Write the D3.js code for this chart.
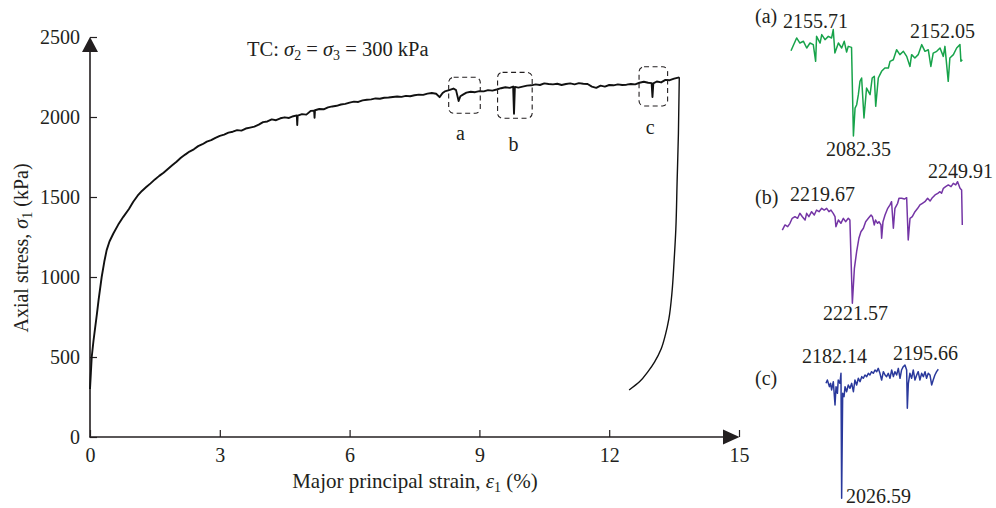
<!DOCTYPE html>
<html><head><meta charset="utf-8">
<script src="https://cdn.jsdelivr.net/npm/d3@7"></script>
<style>body{margin:0;background:#fff}svg{display:block}text{font-family:"Liberation Serif","DejaVu Serif",serif;fill:#231f20}</style>
</head><body><svg id="c" width="996" height="508"></svg>
<script>
// ---------- loading curve (strain %, axial stress kPa) ----------
const mainStrain = [0,0.02,0.04,0.08,0.12,0.16,0.2,0.27,0.33,0.385,0.45,0.54,0.65,0.77,0.9,1.0,1.1,1.2,1.3,1.4,1.5,1.6,1.7,1.8,1.9,2.0,2.1,2.2,2.3,2.4,2.5,2.6,2.7,2.8,2.9,3.0,3.1,3.2,3.3,3.4,3.5,3.6,3.7,3.8,3.9,4.0,4.1,4.2,4.3,4.4,4.5,4.6,4.7,4.78,4.79,4.8,4.9,5.0,5.1,5.18,5.19,5.2,5.3,5.4,5.5,5.6,5.7,5.8,5.9,6.0,6.1,6.2,6.3,6.4,6.5,6.6,6.7,6.8,6.9,7.0,7.1,7.2,7.3,7.4,7.5,7.6,7.7,7.8,7.9,8.0,8.08,8.15,8.2,8.3,8.4,8.46,8.52,8.56,8.62,8.7,8.8,8.9,9.0,9.1,9.2,9.3,9.4,9.5,9.6,9.7,9.78,9.8,9.82,9.9,10.0,10.1,10.2,10.3,10.4,10.5,10.6,10.7,10.8,10.9,11.0,11.1,11.2,11.3,11.4,11.5,11.6,11.7,11.8,11.9,12.0,12.1,12.2,12.3,12.4,12.5,12.6,12.7,12.8,12.9,12.98,13.0,13.02,13.1,13.2,13.3,13.4,13.5,13.62];
const mainStress = [300,400,500,600,685,770,860,1000,1095,1168,1222,1272,1326,1376,1425,1470,1508,1538,1562,1585,1610,1632,1652,1675,1698,1720,1745,1765,1784,1798,1818,1830,1846,1855,1870,1882,1890,1902,1908,1918,1915,1928,1934,1940,1952,1968,1972,1985,1980,1992,1998,1994,2005,2010,1950,2008,2018,2015,2038,2040,1995,2042,2050,2048,2060,2066,2070,2078,2082,2090,2096,2094,2104,2108,2110,2116,2114,2120,2122,2125,2128,2126,2132,2130,2136,2140,2138,2146,2150,2145,2124,2150,2160,2168,2178,2168,2100,2130,2140,2152,2158,2155,2162,2160,2168,2165,2172,2180,2186,2182,2190,2020,2188,2184,2190,2196,2198,2204,2200,2210,2206,2204,2208,2200,2206,2210,2204,2212,2208,2206,2190,2182,2196,2190,2200,2198,2204,2200,2202,2206,2204,2214,2220,2214,2212,2125,2210,2222,2216,2232,2230,2240,2248];
// ---------- unloading curve ----------
const unloadStrain = [13.62,13.6,13.57,13.54,13.5,13.45,13.38,13.3,13.2,13.05,12.9,12.7,12.46];
const unloadStress = [2248,1900,1600,1300,1100,900,740,640,550,470,410,345,294];

// ---------- axis ticks ----------
const xTicks = [0,3,6,9,12,15];
const yTicks = [0,500,1000,1500,2000,2500];

// ---------- boxed regions ----------
const boxNames = ["a","b","c"];
const boxStrain = [[8.29,9.02],[9.42,10.22],[12.69,13.35]];
const boxStress = [[2023,2248],[1992,2279],[2069,2314]];
const boxLabelPos = [[8.56,1856],[9.79,1788],[12.95,1894]];

// ---------- inset (a) ----------
const aStrain = [8.290,8.314,8.328,8.343,8.357,8.371,8.385,8.395,8.399,8.414,8.421,8.435,8.449,8.463,8.470,8.477,8.492,8.506,8.517,8.527,8.534,8.548,8.556,8.563,8.570,8.577,8.584,8.591,8.601,8.612,8.627,8.636,8.645,8.651,8.662,8.676,8.690,8.705,8.712,8.726,8.740,8.754,8.769,8.783,8.797,8.804,8.818,8.832,8.847,8.861,8.875,8.886,8.896,8.911,8.925,8.939,8.946,8.960,8.967,8.982,8.996,9.010,9.014,9.020];
const aStress = [2141.1,2149.9,2146.4,2147.6,2143.0,2146.4,2145.3,2133.8,2151.0,2146.4,2152.2,2148.7,2151.0,2149.9,2155.7,2139.5,2146.4,2143.0,2147.6,2140.2,2144.1,2143.4,2082.35,2101.6,2103.9,2110.8,2120.0,2122.3,2094.8,2115.4,2110.8,2122.3,2123.5,2102.8,2122.3,2126.9,2129.2,2129.2,2133.8,2134.9,2141.8,2138.4,2140.7,2137.2,2130.3,2138.4,2136.1,2138.4,2145.3,2140.7,2141.8,2130.3,2139.5,2140.7,2143.0,2137.2,2144.1,2120.0,2136.1,2138.4,2143.0,2145.3,2133.8,2134.9];
// ---------- inset (b) ----------
const bStrain = [9.420,9.432,9.444,9.454,9.464,9.476,9.488,9.498,9.509,9.521,9.528,9.538,9.550,9.562,9.572,9.583,9.595,9.606,9.617,9.627,9.636,9.646,9.654,9.658,9.669,9.680,9.691,9.701,9.713,9.720,9.731,9.740,9.750,9.760,9.769,9.780,9.790,9.802,9.814,9.820,9.828,9.834,9.843,9.849,9.858,9.861,9.867,9.876,9.888,9.898,9.905,9.913,9.920,9.932,9.938,9.950,9.962,9.972,9.979,9.987,9.997,10.009,10.021,10.031,10.042,10.053,10.065,10.076,10.086,10.098,10.110,10.120,10.127,10.135,10.145,10.157,10.169,10.179,10.190,10.198,10.209,10.216,10.219];
const bStress = [2211.2,2215.3,2213.9,2216.6,2220.6,2221.9,2220.6,2224.6,2221.9,2219.2,2224.6,2221.9,2225.9,2223.2,2227.2,2225.9,2228.6,2227.2,2228.6,2225.9,2227.2,2224.6,2221.9,2213.9,2219.2,2216.6,2220.6,2217.9,2220.6,2219.2,2152.6,2180.6,2193.9,2204.6,2209.9,2212.6,2217.9,2220.6,2223.2,2221.9,2215.3,2219.2,2216.6,2217.9,2215.3,2204.6,2217.9,2223.2,2228.6,2231.3,2233.9,2212.6,2228.6,2232.6,2236.6,2236.6,2236.0,2237.1,2203.3,2220.6,2221.9,2225.9,2228.6,2231.3,2232.6,2233.9,2236.6,2234.4,2237.1,2239.3,2240.6,2241.9,2240.6,2244.6,2245.9,2247.3,2245.9,2248.6,2247.3,2249.9,2244.6,2243.3,2215.3];
// ---------- inset (c) ----------
const cStrain = [12.690,12.698,12.710,12.717,12.723,12.733,12.743,12.749,12.757,12.762,12.772,12.778,12.782,12.788,12.796,12.802,12.811,12.821,12.831,12.841,12.851,12.860,12.870,12.880,12.890,12.900,12.909,12.919,12.929,12.939,12.948,12.958,12.968,12.978,12.988,12.997,13.007,13.017,13.027,13.037,13.046,13.056,13.066,13.076,13.086,13.095,13.105,13.115,13.125,13.134,13.144,13.154,13.164,13.168,13.174,13.183,13.193,13.203,13.213,13.223,13.232,13.242,13.252,13.262,13.272,13.281,13.291,13.301,13.311,13.320,13.330,13.340,13.350];
const cStress = [2172.4,2176.6,2168.2,2172.4,2164.0,2174.5,2144.9,2168.2,2159.7,2176.6,2172.4,2185.1,2026.6,2159.7,2155.5,2168.2,2161.8,2170.3,2166.1,2172.4,2161.8,2176.6,2170.3,2178.8,2174.5,2180.9,2178.8,2183.0,2180.9,2185.1,2183.0,2187.2,2185.1,2189.3,2187.2,2191.4,2185.1,2176.6,2187.2,2183.0,2180.9,2185.1,2178.8,2189.3,2180.9,2187.2,2183.0,2191.4,2178.8,2189.3,2193.5,2195.7,2189.3,2140.7,2172.4,2185.1,2178.8,2189.3,2176.6,2183.0,2187.2,2176.6,2185.1,2180.9,2187.2,2178.8,2185.1,2183.0,2170.3,2176.6,2183.0,2187.2,2190.2];

const insetLabels = ["(a)","(b)","(c)"];
const insetNotes = [["2155.71","2152.05","2082.35"],["2219.67","2249.91","2221.57"],["2182.14","2195.66","2026.59"]];
const insetColors = ["#17a34a","#7435a5","#2a399c"];

// ---------- drawing ----------
const svg = d3.select("#c");
const ink = "#231f20";
const x = d3.scaleLinear().domain([0,15]).range([90,739]);
const y = d3.scaleLinear().domain([0,2500]).range([437,37]);

const gx = svg.append("g").attr("transform","translate(0,437)")
  .call(d3.axisBottom(x).tickValues(xTicks).tickSize(-7).tickPadding(11).tickFormat(d3.format("d")));
const gy = svg.append("g").attr("transform","translate(90,0)")
  .call(d3.axisLeft(y).tickValues(yTicks).tickSize(-7).tickPadding(10).tickFormat(d3.format("d")));
[gx,gy].forEach(g=>{
  g.select(".domain").remove();
  g.selectAll("line").attr("stroke",ink).attr("stroke-width",1.2);
  g.selectAll("text").attr("font-size",20).attr("font-family","Liberation Serif").attr("fill",ink);
});
svg.append("line").attr("x1",90).attr("x2",90).attr("y1",437.5).attr("y2",50).attr("stroke",ink).attr("stroke-width",1.6);
svg.append("line").attr("x1",89.5).attr("x2",725).attr("y1",437).attr("y2",437).attr("stroke",ink).attr("stroke-width",1.6);
svg.append("path").attr("d","M90,37 L82,52 L98,52 Z").attr("fill",ink);
svg.append("path").attr("d","M739.5,437 L723,429.5 L723,444.5 Z").attr("fill",ink);

svg.append("text").attr("x",415).attr("y",488).attr("text-anchor","middle").attr("font-size",21)
  .html('Major principal strain, <tspan font-style="italic">ε</tspan><tspan font-size="14" dy="4">1</tspan><tspan dy="-4"> (%)</tspan>');
svg.append("text").attr("transform","translate(28,248) rotate(-90)").attr("text-anchor","middle").attr("font-size",20)
  .html('Axial stress, <tspan font-style="italic">σ</tspan><tspan font-size="14" dy="4">1</tspan><tspan dy="-4"> (kPa)</tspan>');

svg.append("text").attr("x",247).attr("y",56).attr("font-size",20.5)
  .html('TC: <tspan font-style="italic">σ</tspan><tspan font-size="14" dy="4">2</tspan><tspan dy="-4"> = </tspan><tspan font-style="italic">σ</tspan><tspan font-size="14" dy="4">3</tspan><tspan dy="-4"> = 300 kPa</tspan>');

const line = d3.line().x(d=>x(d[0])).y(d=>y(d[1]));
svg.append("path").datum(mainStrain.map((s,i)=>[s,mainStress[i]])).attr("fill","none").attr("stroke","#111")
  .attr("stroke-width",1.9).attr("stroke-linejoin","round").attr("d",line);
svg.append("path").datum(unloadStrain.map((s,i)=>[s,unloadStress[i]])).attr("fill","none").attr("stroke","#111")
  .attr("stroke-width",1.4).attr("stroke-linejoin","round").attr("d",line.curve(d3.curveMonotoneY));

boxNames.forEach((n,i)=>{
  const x0=x(boxStrain[i][0]), x1=x(boxStrain[i][1]), y0=y(boxStress[i][1]), y1=y(boxStress[i][0]);
  svg.append("rect").attr("x",x0).attr("y",y0).attr("width",x1-x0).attr("height",y1-y0)
    .attr("rx",5).attr("fill","none").attr("stroke",ink).attr("stroke-width",1.1).attr("stroke-dasharray","5,3.5");
  svg.append("text").attr("x",x(boxLabelPos[i][0])).attr("y",y(boxLabelPos[i][1])).attr("text-anchor","middle")
    .attr("font-size",20).text(n);
});

const insets = [
  {s:aStrain, v:aStress, xd:[8.29,9.02], xr:[791,962.3], yd:[2082.35,2156.76], yr:[136,28],
   lab:[755,23], notes:[[783,28],[910,38],[826,156]]},
  {s:bStrain, v:bStress, xd:[9.42,10.219], xr:[782.3,962.3], yd:[2152.6,2255.25], yr:[303.3,175],
   lab:[755,204], notes:[[790,201],[928,178],[823,320]]},
  {s:cStrain, v:cStress, xd:[12.69,13.35], xr:[826,938.3], yd:[2026.6,2202.0], yr:[498.3,360],
   lab:[755,385], notes:[[802,363],[893,360],[846,503]]}
];
insets.forEach((ins,i)=>{
  const sx=d3.scaleLinear().domain(ins.xd).range(ins.xr);
  const sy=d3.scaleLinear().domain(ins.yd).range(ins.yr);
  svg.append("path").datum(ins.s.map((s,k)=>[s,ins.v[k]])).attr("fill","none").attr("stroke",insetColors[i]).attr("stroke-width",1.5)
    .attr("stroke-linejoin","round").attr("d",d3.line().x(d=>sx(d[0])).y(d=>sy(d[1])));
  svg.append("text").attr("x",ins.lab[0]).attr("y",ins.lab[1]).attr("font-size",20).text(insetLabels[i]);
  insetNotes[i].forEach((t,k)=>{
    svg.append("text").attr("x",ins.notes[k][0]).attr("y",ins.notes[k][1]).attr("font-size",20).text(t);
  });
});
</script></body></html>
